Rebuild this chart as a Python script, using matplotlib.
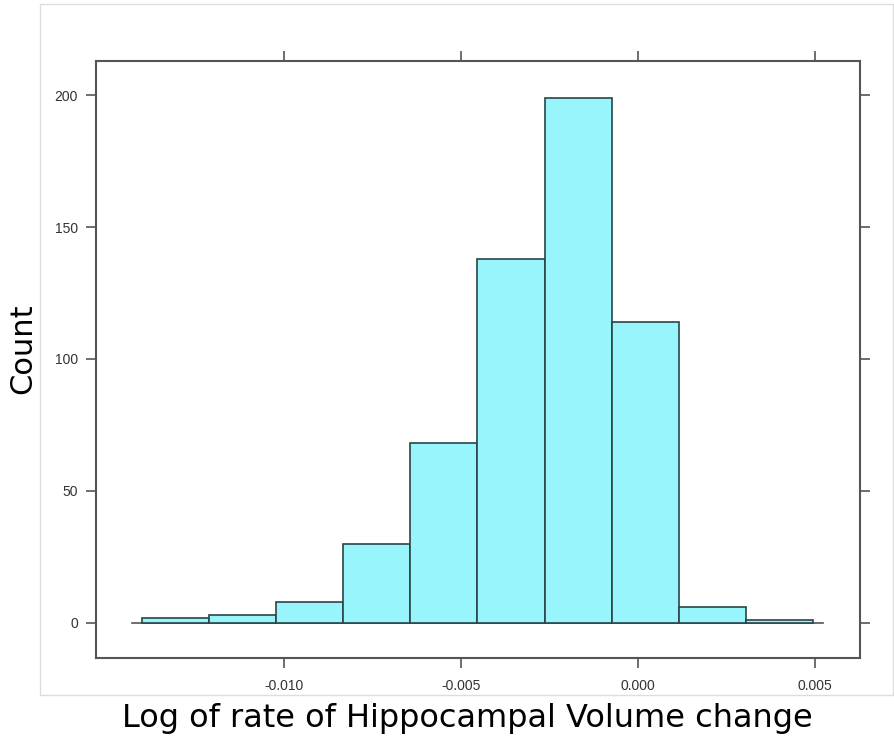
import numpy as np
import matplotlib.pyplot as plt
from matplotlib.patches import Rectangle

# histogram of log rate of hippocampal volume change
bin_lo = -0.01401
bin_hi = 0.00494
counts = [2, 3, 8, 30, 68, 138, 199, 114, 6, 1]
x_ticks = [-0.010, -0.005, 0.000, 0.005]
x_tick_labels = ["-0.010", "-0.005", "0.000", "0.005"]
y_ticks = [0, 50, 100, 150, 200]

edges = np.linspace(bin_lo, bin_hi, len(counts) + 1)
width = edges[1] - edges[0]

fig = plt.figure(figsize=(8.95, 7.37), dpi=100)
fig.patches.append(Rectangle((40 / 895, 42 / 737), 853 / 895, 691 / 737,
                             transform=fig.transFigure, fill=False,
                             edgecolor='#dddddd', linewidth=1.0))

ax = fig.add_axes([96 / 895, 79 / 737, 764 / 895, 597 / 737])
ax.bar(edges[:-1], counts, width=width, align='edge',
       color='#98f5fb', edgecolor='#2a4548', linewidth=1.2, zorder=3)
ax.plot([edges[0] - 0.15 * width, edges[-1] + 0.15 * width], [0, 0],
        color='#555555', linewidth=1.2, zorder=2)

ax.set_xlim(-0.01531, 0.00627)
ax.set_ylim(-13.3, 212.9)
ax.set_xticks(x_ticks)
ax.set_xticklabels(x_tick_labels)
ax.set_yticks(y_ticks)
for s in ax.spines.values():
    s.set_color('#555555')
    s.set_linewidth(1.5)
ax.tick_params(direction='out', length=7, width=1.2, color='#555555',
               top=True, right=True, labeltop=False, labelright=False,
               labelsize=10, labelcolor='#333333')
ax.tick_params(axis='x', pad=8)
ax.tick_params(axis='y', pad=6)
for lab in ax.get_xticklabels() + ax.get_yticklabels():
    lab.set_family('Liberation Sans')

fig.text(467 / 895, 19 / 737, "Log of rate of Hippocampal Volume change",
         ha='center', va='center', fontsize=23, family='DejaVu Sans')
fig.text(23 / 895, 388 / 737, "Count", rotation=90,
         ha='center', va='center', fontsize=22, family='DejaVu Sans')

fig.savefig('out.png', dpi=100)
